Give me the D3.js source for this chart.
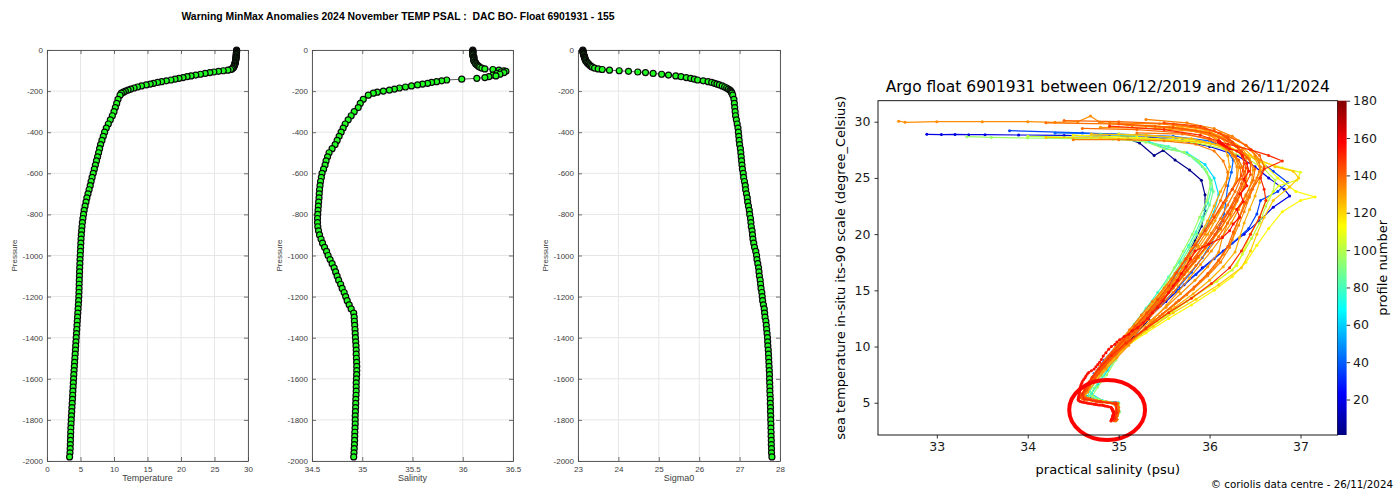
<!DOCTYPE html>
<html>
<head>
<meta charset="utf-8">
<script src="https://cdn.jsdelivr.net/npm/d3@7"></script>
<style>
  html, body { margin: 0; padding: 0; background: #ffffff; }
  svg { display: block; }
</style>
</head>
<body>
<svg id="chart" width="1395" height="489"></svg>
<script>
// ---------------------------------------------------------------
// Latest profile (cycle 155): pressure (dbar), temperature (degC),
// practical salinity (psu) and potential density anomaly sigma0.
// ---------------------------------------------------------------
const pressure = [
  1, 4, 7, 10, 13, 16, 20, 24, 28, 32, 36, 40, 44, 48, 52, 56, 60, 64, 68, 72, 76, 80, 84, 88,
  92, 95, 98, 101, 104, 107, 110, 114, 118, 122, 126, 130, 134, 138, 142, 146, 150, 154, 158, 162,
  166, 170, 175, 180, 185, 190, 195, 200, 205, 210,
  220, 240, 260, 280, 300, 320, 340, 360, 380, 400,
  420, 440, 460, 480, 500, 520, 540, 560, 580, 600,
  620, 640, 660, 680, 700, 720, 740, 760, 780, 800,
  820, 840, 860, 880, 900, 920, 940, 960, 980, 1000,
  1020, 1040, 1060, 1080, 1100, 1120, 1140, 1160, 1180, 1200,
  1220, 1240, 1260, 1280, 1300, 1320, 1340, 1360, 1380, 1400,
  1420, 1440, 1460, 1480, 1500, 1520, 1540, 1560, 1580, 1600,
  1620, 1640, 1660, 1680, 1700, 1720, 1740, 1760, 1780, 1800,
  1820, 1840, 1860, 1880, 1900, 1920, 1940, 1960, 1980
];
const temperature = [
  28.30, 28.30, 28.29, 28.29, 28.28, 28.27, 28.26, 28.25, 28.24, 28.23, 28.22, 28.20, 28.19, 28.17,
  28.15, 28.13, 28.11, 28.08, 28.04, 28.00, 27.96, 27.91, 27.85, 27.75,
  27.6, 27.4, 27.0, 26.3, 25.6, 24.9, 24.3, 23.6, 22.9, 22.2, 21.5, 20.9, 20.3, 19.7, 19.1, 18.5,
  17.8, 17.1, 16.5, 15.9, 15.4, 14.8, 14.1, 13.5, 13.0, 12.5, 12.1, 11.7, 11.4, 11.1,
  10.9, 10.6, 10.4, 10.2, 10.0, 9.75, 9.45, 9.15, 8.85, 8.6,
  8.4, 8.2, 8.0, 7.85, 7.7, 7.55, 7.38, 7.22, 7.06, 6.9,
  6.73, 6.58, 6.45, 6.28, 6.12, 5.95, 5.82, 5.68, 5.55, 5.45,
  5.36, 5.28, 5.22, 5.17, 5.12, 5.08, 5.05, 5.02, 4.99, 4.96,
  4.93, 4.91, 4.88, 4.86, 4.84, 4.82, 4.80, 4.79, 4.77, 4.75,
  4.72, 4.68, 4.64, 4.60, 4.56, 4.52, 4.48, 4.44, 4.40, 4.36,
  4.32, 4.28, 4.24, 4.20, 4.16, 4.12, 4.08, 4.04, 4.00, 3.97,
  3.93, 3.90, 3.86, 3.83, 3.80, 3.76, 3.72, 3.69, 3.65, 3.62,
  3.59, 3.56, 3.54, 3.52, 3.50, 3.48, 3.46, 3.43, 3.37
];
const salinity = [
  36.10, 36.10, 36.10, 36.10, 36.10, 36.10, 36.10, 36.10, 36.10, 36.11, 36.11, 36.11, 36.11, 36.11,
  36.11, 36.12, 36.12, 36.13, 36.13, 36.14, 36.15, 36.16, 36.17, 36.19,
  36.22, 36.30, 36.36, 36.41, 36.43, 36.38, 36.41, 36.34, 36.37, 36.30, 36.33, 36.26, 36.22, 36.14,
  35.99, 35.84, 35.79, 35.74, 35.69, 35.65, 35.60, 35.55, 35.49, 35.43, 35.37, 35.32, 35.27, 35.21,
  35.15, 35.11,
  35.06, 35.01, 34.98, 34.96, 34.92, 34.89, 34.86, 34.83, 34.81, 34.79,
  34.77, 34.75, 34.73, 34.70, 34.67, 34.655, 34.64, 34.63, 34.615, 34.60,
  34.593, 34.585, 34.58, 34.575, 34.572, 34.57, 34.566, 34.563, 34.56, 34.557,
  34.555, 34.555, 34.558, 34.565, 34.575, 34.59, 34.605, 34.625, 34.645, 34.66,
  34.68, 34.70, 34.72, 34.735, 34.75, 34.765, 34.785, 34.80, 34.82, 34.835,
  34.85, 34.87, 34.89, 34.915, 34.92, 34.922, 34.925, 34.928, 34.93, 34.932,
  34.935, 34.938, 34.94, 34.94, 34.942, 34.944, 34.945, 34.945, 34.944, 34.942,
  34.94, 34.94, 34.94, 34.938, 34.936, 34.935, 34.934, 34.932, 34.93, 34.93,
  34.93, 34.928, 34.926, 34.925, 34.924, 34.922, 34.92, 34.918, 34.915
];
const sigma0 = [
  23.12, 23.12, 23.12, 23.13, 23.13, 23.13, 23.14, 23.14, 23.15, 23.16, 23.16, 23.17, 23.18, 23.18,
  23.19, 23.21, 23.22, 23.24, 23.26, 23.28, 23.30, 23.33, 23.36, 23.41,
  23.50, 23.60, 23.78, 24.02, 24.25, 24.48, 24.67, 24.86, 25.07, 25.24, 25.42, 25.55, 25.68, 25.79,
  25.88, 25.96, 26.10, 26.22, 26.31, 26.38, 26.44, 26.50, 26.57, 26.63, 26.68, 26.72, 26.76, 26.78,
  26.80, 26.81,
  26.83, 26.86, 26.87, 26.88, 26.89, 26.90, 26.92, 26.94, 26.96, 26.97,
  26.98, 26.99, 27.00, 27.02, 27.03, 27.04, 27.05, 27.06, 27.07, 27.09,
  27.10, 27.12, 27.14, 27.15, 27.17, 27.19, 27.20, 27.22, 27.24, 27.25,
  27.27, 27.28, 27.29, 27.31, 27.32, 27.33, 27.35, 27.37, 27.40, 27.42,
  27.43, 27.45, 27.47, 27.48, 27.49, 27.51, 27.52, 27.53, 27.55, 27.56,
  27.57, 27.59, 27.61, 27.62, 27.63, 27.65, 27.66, 27.67, 27.68, 27.69,
  27.695, 27.70, 27.71, 27.715, 27.72, 27.725, 27.73, 27.735, 27.74, 27.74,
  27.745, 27.75, 27.75, 27.755, 27.76, 27.76, 27.765, 27.765, 27.77, 27.77,
  27.775, 27.775, 27.78, 27.78, 27.785, 27.785, 27.79, 27.79, 27.80
];

// Tick values of the profile panels
const pressureTicks = [0, -200, -400, -600, -800, -1000, -1200, -1400, -1600, -1800, -2000];
const tempTicks = [0, 5, 10, 15, 20, 25, 30];
const psalTicks = [34.5, 35, 35.5, 36, 36.5];
const sigmaTicks = [23, 24, 25, 26, 27, 28];

// ---------------------------------------------------------------
// T/S diagram history: [salinity, temperature] pairs per profile number
// ---------------------------------------------------------------
const tsP003 = [[35.10,28.50],[35.23,28.10],[35.39,27.00],[35.49,27.45],[35.62,26.60],[35.78,25.70],[35.91,24.80],[35.95,23.50],[35.95,22.10],[35.91,20.70],[35.84,19.40],[35.73,17.70],[35.59,15.90],[35.46,14.20],[35.33,12.40],[35.18,11.00],[35.05,10.00],[34.90,8.80],[34.76,7.50],[34.66,6.20],[34.62,5.60],[34.80,5.15],[34.98,4.95],[34.99,4.20],[34.97,3.50]];
const tsP018 = [[32.89,28.88],[33.05,28.86],[33.20,28.87],[33.35,28.85],[33.53,28.85],[33.90,28.82],[34.40,28.78],[34.90,28.72],[35.35,28.62],[35.70,28.30],[36.00,27.80],[36.30,27.00],[36.50,26.00],[36.65,25.00],[36.82,24.00],[36.88,23.40],[36.70,22.40],[36.55,21.20],[36.38,20.00],[36.15,18.50],[35.92,17.00],[35.72,15.50],[35.52,14.00],[35.32,12.50],[35.13,11.00],[34.98,10.00],[34.83,8.50],[34.70,7.00],[34.62,5.80],[34.74,5.20],[34.97,5.00],[34.98,4.30],[34.96,3.60]];
const tsP035 = [[33.80,29.20],[34.60,29.00],[35.20,28.80],[35.70,28.50],[36.10,28.00],[36.35,27.30],[36.55,26.50],[36.70,25.60],[36.86,24.60],[36.75,23.80],[36.56,23.00],[36.52,21.80],[36.43,20.50],[36.25,19.20],[36.05,17.80],[35.85,16.40],[35.65,15.00],[35.45,13.70],[35.27,12.40],[35.10,11.10],[34.97,10.00],[34.84,8.80],[34.73,7.60],[34.65,6.50],[34.60,5.70],[34.72,5.20],[34.95,5.00],[34.99,4.40],[34.97,3.50]];
const tsP041 = [[34.30,29.00],[35.00,28.90],[35.60,28.70],[36.00,28.30],[36.18,27.60],[36.26,26.60],[36.24,25.50],[36.20,24.30],[36.18,23.00],[36.16,21.80],[36.10,20.50],[36.02,19.20],[35.92,17.90],[35.80,16.60],[35.66,15.30],[35.50,14.00],[35.34,12.70],[35.18,11.40],[35.04,10.20],[34.91,9.00],[34.79,7.80],[34.69,6.70],[34.62,5.80],[34.70,5.25],[34.94,5.00],[34.99,4.40],[34.97,3.50]];
const tsP062 = [[34.80,28.90],[35.20,28.70],[35.52,27.60],[35.75,27.25],[35.95,26.20],[36.05,25.00],[36.10,23.50],[36.05,22.00],[35.95,20.50],[35.85,19.00],[35.72,17.50],[35.60,16.00],[35.48,14.50],[35.35,13.00],[35.20,11.50],[35.07,10.20],[34.97,9.00],[34.88,7.90],[34.77,6.60],[34.70,5.80],[34.82,5.20],[35.00,5.00],[35.00,4.20],[34.97,3.40]];
const tsP080 = [[35.30,28.20],[35.55,27.80],[35.78,27.00],[35.92,26.00],[36.00,25.00],[36.02,24.00],[35.98,22.80],[35.92,21.50],[35.85,20.20],[35.77,19.00],[35.67,17.60],[35.55,16.20],[35.43,14.80],[35.30,13.40],[35.17,12.00],[35.05,10.70],[34.96,9.50],[34.87,8.30],[34.76,7.10],[34.68,6.00],[34.65,5.40],[34.80,5.10],[34.99,4.95],[35.00,4.20],[34.97,3.60]];
const tsP088 = [[35.40,28.00],[35.62,27.60],[35.82,26.80],[35.95,25.80],[36.02,24.80],[36.04,23.80],[36.00,22.60],[35.93,21.30],[35.86,20.00],[35.78,18.80],[35.68,17.40],[35.57,16.00],[35.45,14.60],[35.33,13.20],[35.20,11.80],[35.09,10.60],[35.00,9.50],[34.92,8.50],[34.82,7.40],[34.73,6.30],[34.68,5.60],[34.84,5.10],[35.00,4.95],[35.01,4.20],[34.98,3.50]];
const tsP095 = [[33.33,28.67],[33.60,28.60],[34.00,28.55],[34.50,28.50],[34.94,28.45],[35.30,28.20],[35.50,27.60],[35.72,27.30],[35.88,26.50],[35.97,25.50],[36.01,24.50],[35.97,23.00],[35.89,21.50],[35.81,20.00],[35.71,18.50],[35.61,17.00],[35.51,15.50],[35.40,14.00],[35.28,12.50],[35.16,11.20],[35.06,10.00],[34.97,8.80],[34.87,7.50],[34.77,6.40],[34.71,5.60],[34.85,5.10],[35.00,4.90],[35.00,4.20],[34.98,3.50]];
const tsP101 = [[34.00,28.70],[34.70,28.60],[35.30,28.50],[35.80,28.20],[36.15,27.60],[36.40,26.80],[36.60,25.80],[36.72,24.80],[36.70,23.80],[36.62,22.50],[36.55,21.00],[36.46,19.60],[36.36,18.20],[36.25,16.80],[36.00,15.40],[35.75,14.00],[35.52,12.70],[35.32,11.50],[35.14,10.40],[35.00,9.40],[34.87,8.30],[34.76,7.20],[34.67,6.20],[34.63,5.50],[34.82,5.10],[34.99,4.90],[34.99,4.10],[34.97,3.50]];
const tsP108 = [[35.00,28.90],[35.60,28.60],[36.00,28.10],[36.30,27.40],[36.55,26.50],[36.80,25.90],[37.00,25.50],[36.96,24.80],[36.76,24.30],[36.62,23.00],[36.55,21.50],[36.45,20.00],[36.38,18.60],[36.30,17.20],[36.08,15.80],[35.82,14.40],[35.56,13.00],[35.34,11.80],[35.14,10.50],[34.99,9.50],[34.85,8.40],[34.74,7.20],[34.65,6.10],[34.62,5.50],[34.80,5.10],[34.98,4.90],[34.98,4.10],[34.96,3.50]];
const tsP114 = [[34.50,28.80],[35.20,28.60],[35.80,28.30],[36.20,27.80],[36.45,27.00],[36.60,26.20],[36.75,25.00],[36.95,23.80],[37.16,23.30],[37.00,23.00],[36.80,22.00],[36.65,20.50],[36.52,19.00],[36.40,17.50],[36.25,16.20],[36.05,15.00],[35.80,13.70],[35.55,12.50],[35.30,11.20],[35.08,10.00],[34.92,8.80],[34.78,7.60],[34.68,6.50],[34.60,5.60],[34.78,5.15],[34.97,4.95],[34.97,4.20],[34.95,3.50]];
const tsP122 = [[34.20,28.60],[34.80,28.55],[35.40,28.40],[35.90,28.20],[36.25,27.60],[36.50,26.80],[36.72,26.00],[36.92,25.60],[36.98,25.00],[36.88,24.20],[36.70,23.00],[36.60,21.50],[36.52,20.00],[36.45,18.50],[36.35,17.00],[36.10,15.50],[35.85,14.20],[35.60,13.00],[35.38,11.80],[35.19,10.80],[35.03,9.80],[34.88,8.60],[34.76,7.30],[34.66,6.30],[34.60,5.50],[34.80,5.10],[34.98,4.90],[34.98,4.10],[34.96,3.50]];
const tsP125 = [[34.70,28.90],[35.30,28.80],[35.80,28.50],[36.10,27.90],[36.28,27.00],[36.36,26.00],[36.40,25.00],[36.36,24.00],[36.30,22.90],[36.22,21.70],[36.12,20.40],[36.00,19.10],[35.88,17.90],[35.76,16.70],[35.64,15.50],[35.51,14.30],[35.38,13.10],[35.25,11.90],[35.12,10.80],[35.00,9.70],[34.88,8.60],[34.77,7.50],[34.68,6.50],[34.61,5.60],[34.76,5.15],[34.97,4.95],[34.98,4.20],[34.96,3.50]];
const tsP127 = [[35.10,29.70],[35.65,29.50],[36.00,29.10],[36.22,28.40],[36.38,27.60],[36.50,26.70],[36.56,25.70],[36.55,24.60],[36.50,23.40],[36.44,22.20],[36.38,21.00],[36.33,19.70],[36.28,18.40],[36.15,17.10],[36.00,15.90],[35.82,14.70],[35.62,13.50],[35.42,12.30],[35.24,11.10],[35.08,10.00],[34.94,8.90],[34.82,7.80],[34.71,6.80],[34.63,5.90],[34.60,5.40],[34.78,5.10],[34.97,4.90],[34.97,4.10],[34.95,3.50]];
const tsP128 = [[35.30,29.60],[35.75,29.30],[36.05,28.70],[36.15,27.90],[36.20,27.00],[36.22,26.00],[36.20,25.00],[36.12,23.80],[36.05,22.50],[35.98,21.20],[35.90,20.00],[35.80,18.70],[35.70,17.40],[35.58,16.00],[35.47,14.80],[35.35,13.60],[35.22,12.30],[35.08,11.00],[34.96,9.90],[34.85,8.80],[34.74,7.60],[34.66,6.60],[34.60,5.70],[34.70,5.20],[34.92,5.00],[34.99,4.50],[34.97,3.60]];
const tsP130 = [[35.60,29.70],[35.95,29.30],[36.12,28.60],[36.22,27.80],[36.28,26.90],[36.32,25.90],[36.30,24.80],[36.22,23.60],[36.14,22.40],[36.06,21.20],[35.98,20.00],[35.88,18.80],[35.77,17.60],[35.66,16.40],[35.54,15.20],[35.42,14.00],[35.30,12.90],[35.17,11.70],[35.04,10.50],[34.92,9.40],[34.80,8.30],[34.70,7.20],[34.62,6.20],[34.58,5.50],[34.76,5.10],[34.97,4.92],[34.98,4.30],[34.96,3.50]];
const tsP131 = [[35.70,29.40],[36.02,29.00],[36.22,28.40],[36.36,27.60],[36.44,26.70],[36.48,25.70],[36.46,24.60],[36.40,23.40],[36.32,22.20],[36.24,21.00],[36.14,19.80],[36.02,18.50],[35.90,17.30],[35.78,16.10],[35.66,14.90],[35.53,13.70],[35.39,12.50],[35.25,11.30],[35.11,10.10],[34.98,9.00],[34.86,8.00],[34.75,6.90],[34.66,5.95],[34.60,5.40],[34.80,5.12],[34.98,4.95],[34.99,4.40],[34.97,3.55]];
const tsP132 = [[34.80,29.50],[35.40,29.40],[35.90,29.10],[36.15,28.50],[36.32,27.70],[36.40,26.80],[36.42,25.80],[36.40,24.70],[36.34,23.50],[36.27,22.30],[36.20,21.00],[36.14,19.70],[36.10,18.40],[35.98,17.10],[35.84,15.90],[35.68,14.70],[35.52,13.50],[35.35,12.30],[35.18,11.10],[35.02,10.00],[34.88,8.90],[34.76,7.80],[34.66,6.70],[34.59,5.70],[34.64,5.30],[34.86,5.08],[34.98,4.90],[34.98,4.00],[34.96,3.40]];
const tsP133 = [[32.58,30.05],[32.65,29.95],[33.00,30.00],[33.50,30.00],[34.00,30.00],[34.30,29.95],[34.55,30.00],[34.69,30.50],[34.79,29.95],[35.15,29.65],[35.56,29.50],[35.80,29.20],[36.00,28.80],[36.15,28.00],[36.25,27.00],[36.30,26.00],[36.30,25.00],[36.25,24.00],[36.18,23.00],[36.10,22.00],[36.02,21.00],[35.95,20.00],[35.87,19.00],[35.78,18.00],[35.70,17.00],[35.62,16.00],[35.53,15.00],[35.43,14.00],[35.33,13.00],[35.23,12.00],[35.12,11.00],[35.00,10.00],[34.88,9.00],[34.78,8.00],[34.70,7.00],[34.63,6.00],[34.60,5.40],[34.80,5.15],[34.98,4.95],[34.97,4.30],[34.95,3.60]];
const tsP134 = [[34.90,29.90],[35.45,29.80],[35.85,29.50],[36.12,29.00],[36.32,28.30],[36.46,27.50],[36.55,26.60],[36.55,25.60],[36.50,24.50],[36.44,23.30],[36.38,22.00],[36.32,20.80],[36.25,19.50],[36.15,18.20],[36.05,17.00],[35.90,15.80],[35.75,14.60],[35.57,13.40],[35.38,12.20],[35.20,11.00],[35.05,9.90],[34.91,8.80],[34.78,7.70],[34.68,6.60],[34.61,5.70],[34.66,5.25],[34.88,5.05],[34.99,4.70],[34.97,3.60]];
const tsP135 = [[35.30,30.20],[35.75,29.90],[36.05,29.40],[36.25,28.70],[36.40,27.90],[36.50,27.00],[36.56,26.00],[36.52,25.00],[36.45,23.90],[36.38,22.70],[36.32,21.40],[36.27,20.10],[36.22,18.80],[36.12,17.50],[35.98,16.30],[35.82,15.10],[35.63,13.90],[35.45,12.70],[35.28,11.50],[35.11,10.30],[34.96,9.20],[34.83,8.10],[34.72,7.00],[34.64,6.00],[34.60,5.40],[34.79,5.12],[34.99,4.95],[35.00,4.20],[34.98,3.50]];
const tsP136 = [[34.50,28.40],[35.00,28.40],[35.50,28.30],[35.85,28.00],[36.05,27.40],[36.15,26.50],[36.20,25.50],[36.18,24.30],[36.12,23.00],[36.04,21.70],[35.95,20.40],[35.85,19.10],[35.74,17.80],[35.62,16.50],[35.50,15.20],[35.37,14.00],[35.25,12.80],[35.12,11.50],[35.00,10.30],[34.88,9.10],[34.77,7.90],[34.67,6.80],[34.60,5.80],[34.62,5.30],[34.82,5.05],[34.98,4.85],[34.99,4.00],[34.97,3.40]];
const tsP137 = [[35.20,29.00],[35.70,28.90],[36.00,28.50],[36.18,27.80],[36.28,26.90],[36.34,25.90],[36.34,24.90],[36.28,23.80],[36.20,22.60],[36.12,21.40],[36.02,20.10],[35.92,18.90],[35.80,17.60],[35.68,16.40],[35.56,15.20],[35.44,14.00],[35.31,12.80],[35.18,11.60],[35.05,10.40],[34.93,9.30],[34.82,8.20],[34.72,7.10],[34.64,6.10],[34.59,5.45],[34.79,5.10],[34.98,4.92],[34.98,4.20],[34.96,3.45]];
const tsP138 = [[34.20,29.90],[34.90,29.80],[35.40,29.60],[35.85,29.20],[36.10,28.60],[36.30,27.80],[36.42,26.80],[36.50,25.80],[36.48,24.80],[36.40,23.50],[36.30,22.20],[36.20,21.00],[36.10,19.80],[35.98,18.50],[35.85,17.20],[35.72,16.00],[35.60,14.80],[35.46,13.60],[35.32,12.40],[35.18,11.20],[35.04,10.00],[34.90,8.80],[34.78,7.60],[34.68,6.50],[34.61,5.60],[34.75,5.20],[34.95,5.00],[35.00,4.60],[34.98,3.80]];
const tsP139 = [[34.60,29.40],[35.20,29.30],[35.70,29.00],[36.00,28.40],[36.20,27.60],[36.32,26.60],[36.38,25.60],[36.35,24.50],[36.28,23.20],[36.20,22.00],[36.08,20.60],[35.96,19.20],[35.84,17.90],[35.72,16.70],[35.60,15.50],[35.47,14.30],[35.34,13.10],[35.20,11.90],[35.07,10.70],[34.95,9.60],[34.83,8.40],[34.72,7.20],[34.64,6.10],[34.60,5.50],[34.78,5.10],[34.97,4.95],[34.99,4.40],[34.97,3.70]];
const tsP140 = [[34.40,30.10],[35.00,30.00],[35.60,29.80],[35.95,29.40],[36.20,28.70],[36.40,27.90],[36.55,27.00],[36.60,26.00],[36.55,25.00],[36.47,24.00],[36.40,22.80],[36.33,21.50],[36.26,20.20],[36.20,18.90],[36.10,17.70],[35.98,16.50],[35.83,15.30],[35.66,14.10],[35.48,12.90],[35.30,11.70],[35.13,10.50],[34.98,9.40],[34.85,8.30],[34.74,7.20],[34.65,6.20],[34.60,5.50],[34.78,5.10],[34.99,4.90],[35.00,4.30],[34.98,3.50]];
const tsP142 = [[35.00,29.80],[35.60,29.50],[36.00,29.00],[36.20,28.30],[36.35,27.40],[36.45,26.40],[36.45,25.30],[36.38,24.20],[36.30,23.00],[36.22,21.80],[36.12,20.50],[36.00,19.20],[35.87,18.00],[35.75,16.80],[35.63,15.60],[35.50,14.40],[35.37,13.20],[35.24,12.00],[35.10,10.80],[34.97,9.70],[34.86,8.60],[34.75,7.40],[34.66,6.30],[34.60,5.60],[34.76,5.15],[34.96,4.95],[34.98,4.20],[34.96,3.50]];
const tsP143 = [[35.80,29.60],[36.05,29.20],[36.20,28.60],[36.30,27.80],[36.36,26.90],[36.40,25.90],[36.38,24.80],[36.32,23.60],[36.24,22.40],[36.15,21.20],[36.06,20.00],[35.95,18.80],[35.84,17.60],[35.72,16.40],[35.60,15.20],[35.47,14.00],[35.34,12.80],[35.21,11.60],[35.08,10.40],[34.96,9.30],[34.84,8.20],[34.73,7.10],[34.64,6.10],[34.59,5.50],[34.77,5.12],[34.97,4.92],[34.98,4.30],[34.96,3.50]];
const tsP145 = [[35.50,29.90],[35.90,29.60],[36.10,29.00],[36.25,28.20],[36.35,27.30],[36.38,26.30],[36.35,25.20],[36.25,24.00],[36.15,22.80],[36.05,21.50],[35.95,20.30],[35.84,19.00],[35.74,17.80],[35.64,16.60],[35.55,15.40],[35.43,14.20],[35.31,13.00],[35.18,11.80],[35.05,10.60],[34.93,9.50],[34.81,8.40],[34.71,7.30],[34.63,6.30],[34.58,5.50],[34.75,5.10],[34.96,4.90],[34.97,4.20],[34.95,3.40]];
const tsP150 = [[34.90,29.60],[35.50,29.30],[35.90,28.80],[36.20,28.00],[36.45,27.50],[36.65,27.00],[36.80,26.50],[36.60,25.80],[36.56,25.00],[36.60,24.00],[36.62,23.00],[36.55,21.50],[36.45,20.00],[36.35,18.50],[36.22,17.00],[36.02,15.60],[35.80,14.30],[35.55,13.00],[35.30,11.60],[35.08,10.30],[34.92,9.20],[34.78,8.00],[34.68,6.90],[34.60,5.80],[34.62,5.30],[34.80,5.10],[34.97,4.90],[34.98,4.10],[34.96,3.60]];

// Tick values of the T/S diagram and its colour bar
const salTicksTS = [33, 34, 35, 36, 37];
const tempTicksTS = [5, 10, 15, 20, 25, 30];
const profileTicks = [20, 40, 60, 80, 100, 120, 140, 160, 180];

// Profile number -> points, drawn oldest first; the latest cycle comes from the panel data
const history = [
  [3, tsP003], [18, tsP018], [35, tsP035], [41, tsP041], [62, tsP062], [80, tsP080],
  [88, tsP088], [95, tsP095], [101, tsP101], [108, tsP108], [114, tsP114], [122, tsP122],
  [125, tsP125], [127, tsP127], [128, tsP128], [130, tsP130], [131, tsP131], [132, tsP132],
  [133, tsP133], [134, tsP134], [135, tsP135], [136, tsP136], [137, tsP137], [138, tsP138],
  [139, tsP139], [140, tsP140], [142, tsP142], [143, tsP143], [145, tsP145], [150, tsP150],
  [155, d3.zip(salinity, temperature)]
];

// ---------------------------------------------------------------
const svg = d3.select("#chart");
const fontL = "'Liberation Sans', Arial, Helvetica, sans-serif";
const fontR = "'DejaVu Sans', sans-serif";

svg.append("rect").attr("width", 1395).attr("height", 489).attr("fill", "#ffffff");

// Figure title of the profile panels
svg.append("text")
  .attr("x", 398).attr("y", 20)
  .attr("text-anchor", "middle")
  .style("white-space", "pre")
  .attr("font-family", fontL).attr("font-weight", "bold").attr("font-size", 10.4)
  .attr("fill", "#000")
  .text("Warning MinMax Anomalies 2024 November TEMP PSAL :  DAC BO- Float 6901931 - 155");

// ---------------- Profile panels ----------------
const yTop = 50, yBot = 461;
const yP = d3.scaleLinear().domain([0, -2000]).range([yTop, yBot]);

const panels = [
  { values: temperature, domain: [0, 30], ticks: tempTicks, label: "Temperature", range: [47, 248] },
  { values: salinity, domain: [34.5, 36.5], ticks: psalTicks, label: "Salinity", range: [312, 513] },
  { values: sigma0, domain: [23, 28], ticks: sigmaTicks, label: "Sigma0", range: [578, 780] }
];

panels.forEach(p => {
  const x = d3.scaleLinear().domain(p.domain).range(p.range);
  const g = svg.append("g");
  const [x0, x1] = p.range;

  // grid
  g.append("g").selectAll("line").data(p.ticks).join("line")
    .attr("x1", d => x(d)).attr("x2", d => x(d)).attr("y1", yTop).attr("y2", yBot)
    .attr("stroke", "#e6e6e6").attr("stroke-width", 1);
  g.append("g").selectAll("line").data(pressureTicks).join("line")
    .attr("x1", x0).attr("x2", x1).attr("y1", d => yP(d)).attr("y2", d => yP(d))
    .attr("stroke", "#e6e6e6").attr("stroke-width", 1);

  // axes (box with inward ticks)
  const styleAxis = sel => {
    sel.select(".domain").attr("stroke", "#4d4d4d").attr("stroke-width", 0.9);
    sel.selectAll(".tick line").attr("stroke", "#4d4d4d").attr("stroke-width", 0.8);
    sel.selectAll(".tick text").attr("fill", "#404040").attr("font-family", fontL).attr("font-size", 8);
  };
  g.append("g").attr("transform", `translate(0,${yBot})`)
    .call(d3.axisBottom(x).tickValues(p.ticks).tickSize(-4).tickSizeOuter(0).tickPadding(5).tickFormat(String))
    .call(styleAxis);
  g.append("g").attr("transform", `translate(0,${yTop})`)
    .call(d3.axisTop(x).tickValues(p.ticks).tickSize(-4).tickSizeOuter(0).tickFormat(""))
    .call(styleAxis);
  g.append("g").attr("transform", `translate(${x0},0)`)
    .call(d3.axisLeft(yP).tickValues(pressureTicks).tickSize(-4).tickSizeOuter(0).tickPadding(4).tickFormat(String))
    .call(styleAxis);
  g.append("g").attr("transform", `translate(${x1},0)`)
    .call(d3.axisRight(yP).tickValues(pressureTicks).tickSize(-4).tickSizeOuter(0).tickFormat(""))
    .call(styleAxis);

  // axis labels
  g.append("text")
    .attr("x", (x0 + x1) / 2).attr("y", 481)
    .attr("text-anchor", "middle")
    .attr("font-family", fontL).attr("font-size", 9).attr("fill", "#404040")
    .text(p.label);
  g.append("text")
    .attr("transform", `translate(${x0 - 30},${yP(-1000)}) rotate(-90)`)
    .attr("text-anchor", "middle")
    .attr("font-family", fontL).attr("font-size", 8).attr("fill", "#404040")
    .text("Pressure");

  // profile line and markers
  const idx = d3.range(pressure.length);
  g.append("path")
    .datum(idx)
    .attr("d", d3.line().x(i => x(p.values[i])).y(i => yP(-pressure[i])))
    .attr("fill", "none").attr("stroke", "#1a1a1a").attr("stroke-width", 0.7);
  g.append("g").selectAll("circle").data(idx).join("circle")
    .attr("cx", i => x(p.values[i]))
    .attr("cy", i => yP(-pressure[i]))
    .attr("r", 3.0)
    .attr("fill", "#22ff22")
    .attr("stroke", "#0a0a0a").attr("stroke-width", 1.2);
});

// ---------------- T/S diagram ----------------
const px0 = 878, px1 = 1337.6, py0 = 100.7, py1 = 435;
const xS = d3.scaleLinear().domain([32.353, 37.408]).range([px0, px1]);
const yT = d3.scaleLinear().domain([2.13, 31.87]).range([py1, py0]);
const cNorm = d3.scaleLinear().domain([1, 180]).range([0, 1]).clamp(true);

function jet(t) {
  const c = v => Math.max(0, Math.min(1, v));
  const r = c(1.5 - Math.abs(4 * t - 3));
  const g = c(1.5 - Math.abs(4 * t - 2));
  const b = c(1.5 - Math.abs(4 * t - 1));
  return d3.rgb(r * 255, g * 255, b * 255).formatHex();
}

const defs = svg.append("defs");
defs.append("clipPath").attr("id", "tsClip")
  .append("rect").attr("x", px0).attr("y", py0).attr("width", px1 - px0).attr("height", py1 - py0);

const tsLine = d3.line().x(d => xS(d[0])).y(d => yT(d[1]));
const gTS = svg.append("g").attr("clip-path", "url(#tsClip)");
history.forEach(([num, pts]) => {
  const col = jet(cNorm(num));
  gTS.append("path").datum(pts).attr("d", tsLine)
    .attr("fill", "none").attr("stroke", col).attr("stroke-width", 1.2).attr("stroke-linejoin", "round");
  gTS.append("g").selectAll("circle").data(pts).join("circle")
    .attr("cx", d => xS(d[0])).attr("cy", d => yT(d[1])).attr("r", 1.5).attr("fill", col);
});

// highlighted deep water region
const ringCentre = [34.873, 4.35], ringHalf = [0.417, 2.67];
svg.append("ellipse")
  .attr("cx", xS(ringCentre[0])).attr("cy", yT(ringCentre[1]))
  .attr("rx", xS(ringCentre[0] + ringHalf[0]) - xS(ringCentre[0]))
  .attr("ry", yT(ringCentre[1] - ringHalf[1]) - yT(ringCentre[1]))
  .attr("fill", "none").attr("stroke", "#ff0000").attr("stroke-width", 4);

// frame and axes
const styleR = sel => {
  sel.select(".domain").remove();
  sel.selectAll(".tick line").attr("stroke", "#000").attr("stroke-width", 0.8);
  sel.selectAll(".tick text").attr("fill", "#1a1a1a").attr("font-family", fontR).attr("font-size", 12.5);
};
svg.append("g").attr("transform", `translate(0,${py1})`)
  .call(d3.axisBottom(xS).tickValues(salTicksTS).tickSize(3.5).tickPadding(4).tickFormat(String))
  .call(styleR);
svg.append("g").attr("transform", `translate(${px0},0)`)
  .call(d3.axisLeft(yT).tickValues(tempTicksTS).tickSize(3.5).tickPadding(4).tickFormat(String))
  .call(styleR);
svg.append("rect")
  .attr("x", px0).attr("y", py0).attr("width", px1 - px0).attr("height", py1 - py0)
  .attr("fill", "none").attr("stroke", "#000").attr("stroke-width", 0.9);

// colour bar
const cbX = px1, cbW = 9;
const grad = defs.append("linearGradient").attr("id", "jetGrad")
  .attr("x1", 0).attr("y1", 1).attr("x2", 0).attr("y2", 0);
d3.range(0, 1.0001, 0.025).forEach(t => {
  grad.append("stop").attr("offset", t).attr("stop-color", jet(t));
});
svg.append("rect").attr("x", cbX).attr("y", py0).attr("width", cbW).attr("height", py1 - py0)
  .attr("fill", "url(#jetGrad)");
const yC = d3.scaleLinear().domain([1, 180]).range([py1, py0]);
svg.append("g").attr("transform", `translate(${cbX + cbW},0)`)
  .call(d3.axisRight(yC).tickValues(profileTicks).tickSize(3.5).tickPadding(3).tickFormat(String))
  .call(styleR);

// titles and labels
svg.append("text")
  .attr("x", (px0 + px1) / 2).attr("y", 92)
  .attr("text-anchor", "middle")
  .attr("font-family", fontR).attr("font-size", 15.5).attr("fill", "#000")
  .text("Argo float 6901931 between 06/12/2019 and 26/11/2024");
svg.append("text")
  .attr("x", (px0 + px1) / 2).attr("y", 474)
  .attr("text-anchor", "middle")
  .attr("font-family", fontR).attr("font-size", 13).attr("fill", "#000")
  .text("practical salinity (psu)");
svg.append("text")
  .attr("transform", `translate(845,${(py0 + py1) / 2}) rotate(-90)`)
  .attr("text-anchor", "middle")
  .attr("font-family", fontR).attr("font-size", 13).attr("fill", "#000")
  .text("sea temperature in-situ its-90 scale (degree_Celsius)");
svg.append("text")
  .attr("transform", `translate(1387,${(py0 + py1) / 2}) rotate(-90)`)
  .attr("text-anchor", "middle")
  .attr("font-family", fontR).attr("font-size", 13).attr("fill", "#000")
  .text("profile number");
svg.append("text")
  .attr("x", 1393).attr("y", 488)
  .attr("text-anchor", "end")
  .attr("font-family", fontR).attr("font-size", 10.3).attr("fill", "#000")
  .text("© coriolis data centre - 26/11/2024");
</script>
</body>
</html>
